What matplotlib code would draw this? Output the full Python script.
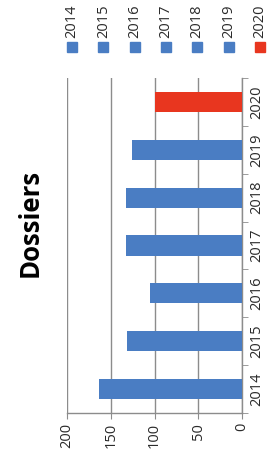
import matplotlib
matplotlib.use("Agg")
import matplotlib.pyplot as plt
import numpy as np
from matplotlib.patches import Rectangle

years = ["2014", "2015", "2016", "2017", "2018", "2019", "2020"]
dossiers = [164, 132, 105, 133, 133, 126, 100]
value_ticks = [0, 50, 100, 150, 200]
highlight = "2020"
title = "Dossiers"

BLUE = "#4a7dc3"
RED = "#e8361f"
GRID = "#8c8c8c"
TEXT = "#2a2a2a"

W, H = 271, 465
plt.rcParams["font.family"] = ["Open Sans", "DejaVu Sans"]
fig = plt.figure(figsize=(W / 100, H / 100), dpi=100)


def fx(px):
    return px / W


def fy(py):
    return 1 - py / H


# plot area, pixel box of the reference
ax = fig.add_axes([fx(67), fy(413), fx(242) - fx(67), fy(78) - fy(413)])
pos = np.arange(len(years))
colors = [RED if y == highlight else BLUE for y in years]
ax.barh(pos, dossiers, height=0.42, color=colors, zorder=3)

ax.set_xlim(max(value_ticks), 0)
ax.set_ylim(-0.5, len(years) - 0.5)

ax.set_xticks(value_ticks)
ax.set_xticklabels([str(v) for v in value_ticks], rotation=90)
ax.xaxis.grid(True, color=GRID, linewidth=1.0, zorder=0)
ax.tick_params(axis="x", direction="out", length=4, color=GRID,
               labelsize=10.5, labelcolor=TEXT, pad=3)

ax.yaxis.tick_right()
ax.set_yticks(pos)
ax.set_yticklabels(years, rotation=90, va="center")
ax.set_yticks(np.arange(len(years) + 1) - 0.5, minor=True)
ax.tick_params(axis="y", which="major", length=0, labelsize=10.5,
               labelcolor=TEXT, pad=5)
ax.tick_params(axis="y", which="minor", direction="out", length=4, color=GRID)

for side in ("left", "top"):
    ax.spines[side].set_visible(False)
for side in ("bottom", "right"):
    ax.spines[side].set_color(GRID)
    ax.spines[side].set_linewidth(1.0)

# legend: one row across the top, labels rotated like the rest
for i, y in enumerate(years):
    cx = 72 + i * 31.3
    fig.patches.append(Rectangle((fx(cx - 5), fy(52)), 10 / W, 10 / H,
                                 transform=fig.transFigure,
                                 color=colors[i]))
    fig.text(fx(cx), fy(38), y, rotation=90, ha="center", va="bottom",
             fontsize=10.5, color=TEXT)

fig.text(fx(30), fy(223), title, rotation=90, ha="center", va="center",
         fontsize=18.5, fontweight="bold", color="black")

fig.savefig("out.png", dpi=100)
